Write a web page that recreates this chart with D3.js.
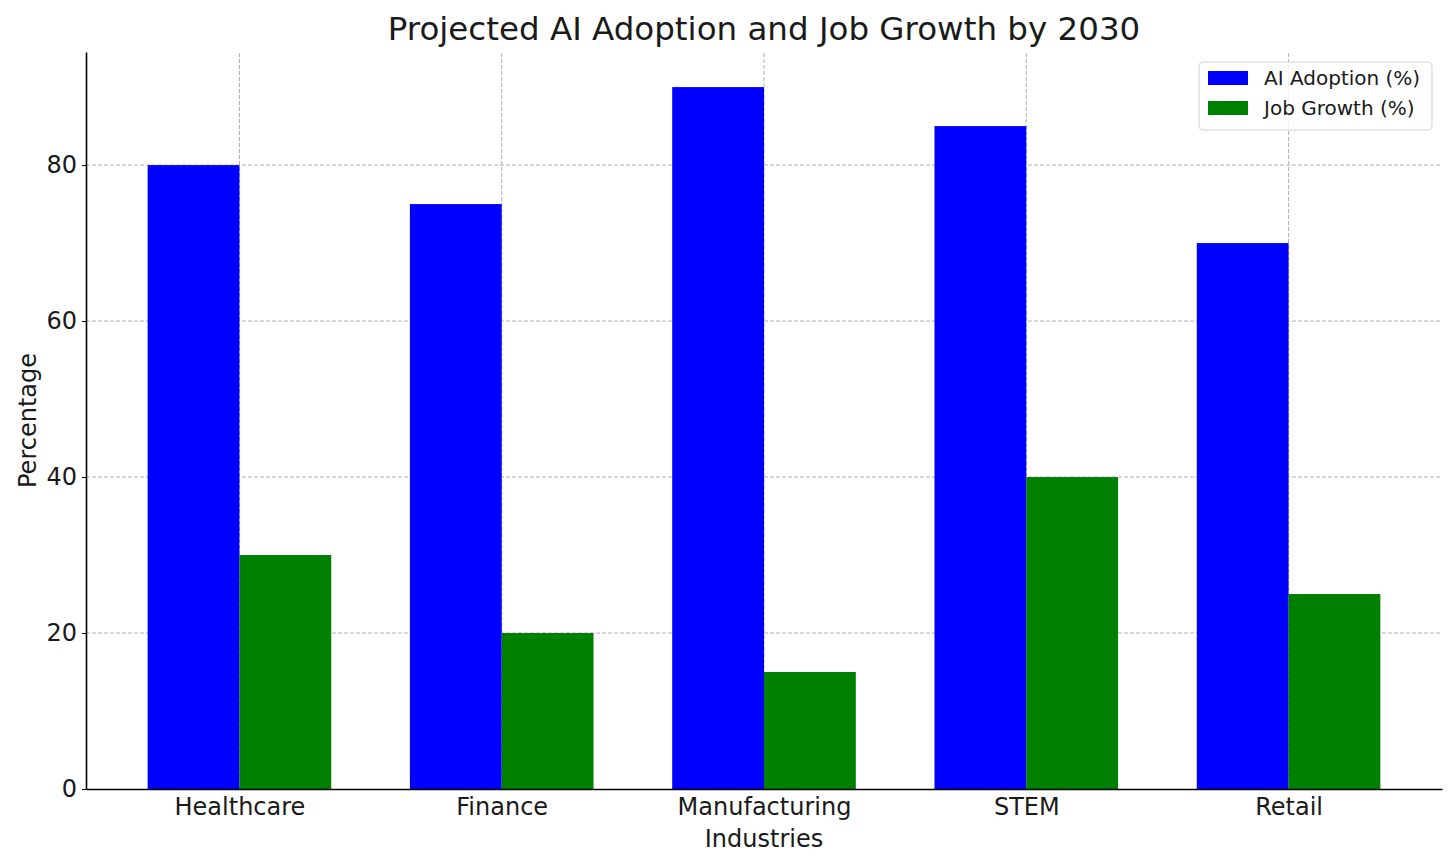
<!DOCTYPE html>
<html>
<head>
<meta charset="utf-8">
<script src="https://cdn.jsdelivr.net/npm/d3@7"></script>
<style>
  body { margin: 0; background: #fff; }
  text { font-family: "DejaVu Sans", sans-serif; fill: #1a1a1a; }
</style>
</head>
<body>
<div id="chart"></div>
<script>
const industries = ["Healthcare", "Finance", "Manufacturing", "STEM", "Retail"];
const ai_adoption = [80, 75, 90, 85, 70];
const job_growth = [30, 20, 15, 40, 25];
const y_ticks = [0, 20, 40, 60, 80];

const WIDTH = 1456;
const HEIGHT = 868;
const margin = {top: 52, right: 14, bottom: 79, left: 86};
const BAR_W = 0.35;

let svg = d3.select("#chart")
    .append("svg")
    .attr("width", WIDTH)
    .attr("height", HEIGHT);

let x = d3.scaleLinear()
    .domain([-0.585, 4.585])
    .range([margin.left, WIDTH - margin.right]);

let y = d3.scaleLinear()
    .domain([0, 94.5])
    .range([HEIGHT - margin.bottom, margin.top]);

// grid lines behind the bars
let grid = svg.append("g");
grid.selectAll("line.h")
    .data(y_ticks.slice(1))
    .enter().append("line")
    .attr("x1", x.range()[0]).attr("x2", x.range()[1])
    .attr("y1", d => y(d)).attr("y2", d => y(d))
    .attr("stroke", "#b0b0b0").attr("stroke-dasharray", "4,2").attr("stroke-width", 1);
grid.selectAll("line.v")
    .data(industries)
    .enter().append("line")
    .attr("x1", (d, i) => x(i)).attr("x2", (d, i) => x(i))
    .attr("y1", y.range()[0]).attr("y2", y.range()[1])
    .attr("stroke", "#b0b0b0").attr("stroke-dasharray", "4,2").attr("stroke-width", 1);

let bars = svg.append("g");
bars.selectAll("rect.ai")
    .data(ai_adoption)
    .enter().append("rect")
    .attr("x", (d, i) => x(i - BAR_W))
    .attr("width", (d, i) => x(i) - x(i - BAR_W))
    .attr("y", d => y(d))
    .attr("height", d => y(0) - y(d))
    .attr("fill", "#0000ff");
bars.selectAll("rect.job")
    .data(job_growth)
    .enter().append("rect")
    .attr("x", (d, i) => x(i))
    .attr("width", (d, i) => x(i + BAR_W) - x(i))
    .attr("y", d => y(d))
    .attr("height", d => y(0) - y(d))
    .attr("fill", "#008000");

// axes
let x_axis = svg.append("g")
    .attr("transform", "translate(0," + y(0) + ")")
    .call(d3.axisBottom(x).tickValues(d3.range(industries.length))
        .tickFormat(i => industries[i]).tickSize(0).tickPadding(9));
x_axis.select(".domain").attr("stroke", "#000").attr("stroke-width", 1.6);
x_axis.selectAll("text").attr("font-size", 24).attr("fill", "#1a1a1a");

let y_axis = svg.append("g")
    .attr("transform", "translate(" + x.range()[0] + ",0)")
    .call(d3.axisLeft(y).tickValues(y_ticks).tickSize(4).tickSizeOuter(0).tickPadding(5));
y_axis.select(".domain").attr("stroke", "#000").attr("stroke-width", 1.6);
y_axis.selectAll("text").attr("font-size", 24).attr("fill", "#1a1a1a");

// titles
svg.append("text")
    .attr("x", (x.range()[0] + x.range()[1]) / 2)
    .attr("y", 40)
    .attr("text-anchor", "middle")
    .attr("font-size", 32.5)
    .text("Projected AI Adoption and Job Growth by 2030");

svg.append("text")
    .attr("x", (x.range()[0] + x.range()[1]) / 2)
    .attr("y", 847)
    .attr("text-anchor", "middle")
    .attr("font-size", 24)
    .text("Industries");

svg.append("text")
    .attr("transform", "translate(36," + (y.range()[0] + y.range()[1]) / 2 + ") rotate(-90)")
    .attr("text-anchor", "middle")
    .attr("font-size", 24)
    .text("Percentage");

// legend
let legend = svg.append("g").attr("transform", "translate(1199,62)");
legend.append("rect")
    .attr("width", 233).attr("height", 68).attr("rx", 4)
    .attr("fill", "#fff").attr("fill-opacity", 0.8)
    .attr("stroke", "#d0d0d0");
const legend_items = [["AI Adoption (%)", "#0000ff"], ["Job Growth (%)", "#008000"]];
legend.selectAll("rect.sw")
    .data(legend_items)
    .enter().append("rect")
    .attr("x", 9).attr("y", (d, i) => 9 + i * 30)
    .attr("width", 40).attr("height", 14)
    .attr("fill", d => d[1]);
legend.selectAll("text.lbl")
    .data(legend_items)
    .enter().append("text")
    .attr("x", 65).attr("y", (d, i) => 23 + i * 30)
    .attr("font-size", 20)
    .text(d => d[0]);
</script>
</body>
</html>
